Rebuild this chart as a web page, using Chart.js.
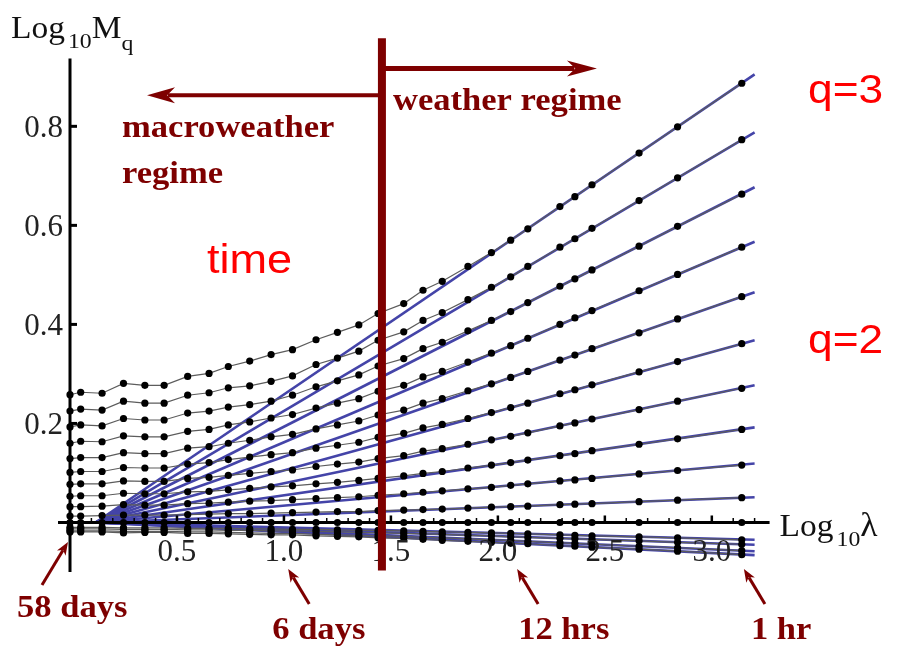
<!DOCTYPE html>
<html>
<head>
<meta charset="utf-8">
<script src="https://cdn.jsdelivr.net/npm/chart.js@4.4.1/dist/chart.umd.min.js"></script>
<style>
  html, body { margin: 0; padding: 0; background: #fff; }
  #wrap { width: 899px; height: 652px; }
</style>
</head>
<body>
<div id="wrap"><canvas id="c" width="899" height="652"></canvas></div>
<script>
// log10 of the scale ratio lambda (0 = 58 days, ~3.14 = 1 hr)
const logLambda = [0, 0.05, 0.15, 0.25, 0.35, 0.44, 0.55, 0.65, 0.74, 0.84, 0.94, 1.04, 1.15, 1.25, 1.35,
  1.44, 1.56, 1.65, 1.74, 1.86, 1.97, 2.06, 2.14, 2.29, 2.36, 2.44, 2.66, 2.84, 3.14];

// log10 M_q, one array per moment order q
const mq30 = [0.258, 0.263, 0.261, 0.281, 0.277, 0.277, 0.295, 0.301, 0.315, 0.326, 0.339, 0.349, 0.369, 0.384, 0.399,
  0.422, 0.442, 0.469, 0.487, 0.517, 0.545, 0.570, 0.593, 0.638, 0.658, 0.682, 0.746, 0.799, 0.887];
const mq28 = [0.225, 0.229, 0.227, 0.245, 0.241, 0.241, 0.257, 0.262, 0.272, 0.276, 0.285, 0.296, 0.319, 0.332, 0.346,
  0.368, 0.385, 0.408, 0.424, 0.450, 0.475, 0.496, 0.517, 0.556, 0.573, 0.594, 0.650, 0.696, 0.773];
const mq26 = [0.193, 0.197, 0.195, 0.210, 0.207, 0.207, 0.221, 0.225, 0.233, 0.238, 0.245, 0.257, 0.274, 0.286, 0.298,
  0.316, 0.331, 0.351, 0.364, 0.387, 0.408, 0.426, 0.444, 0.477, 0.492, 0.510, 0.558, 0.598, 0.663];
const mq24 = [0.160, 0.164, 0.163, 0.175, 0.173, 0.173, 0.184, 0.188, 0.197, 0.203, 0.211, 0.218, 0.231, 0.241, 0.250,
  0.265, 0.277, 0.294, 0.305, 0.324, 0.342, 0.357, 0.372, 0.400, 0.413, 0.428, 0.468, 0.501, 0.556];
const mq22 = [0.129, 0.131, 0.131, 0.141, 0.139, 0.139, 0.150, 0.153, 0.160, 0.166, 0.173, 0.178, 0.189, 0.197, 0.205,
  0.217, 0.227, 0.241, 0.250, 0.266, 0.280, 0.293, 0.305, 0.328, 0.338, 0.351, 0.383, 0.411, 0.456];
const mq20 = [0.101, 0.103, 0.103, 0.111, 0.110, 0.110, 0.118, 0.121, 0.127, 0.132, 0.137, 0.141, 0.150, 0.156, 0.162,
  0.172, 0.180, 0.191, 0.198, 0.210, 0.222, 0.232, 0.241, 0.260, 0.268, 0.278, 0.304, 0.325, 0.361];
const mq18 = [0.077, 0.078, 0.078, 0.084, 0.083, 0.083, 0.089, 0.091, 0.095, 0.099, 0.103, 0.106, 0.113, 0.118, 0.122,
  0.129, 0.135, 0.144, 0.149, 0.158, 0.167, 0.174, 0.181, 0.195, 0.201, 0.209, 0.228, 0.245, 0.271];
const mq16 = [0.053, 0.054, 0.054, 0.059, 0.058, 0.058, 0.062, 0.063, 0.066, 0.069, 0.072, 0.074, 0.078, 0.081, 0.085,
  0.089, 0.094, 0.099, 0.103, 0.110, 0.116, 0.121, 0.126, 0.135, 0.139, 0.145, 0.158, 0.169, 0.188];
const mq14 = [0.032, 0.032, 0.033, 0.036, 0.035, 0.035, 0.038, 0.039, 0.041, 0.043, 0.044, 0.046, 0.048, 0.050, 0.052,
  0.055, 0.058, 0.061, 0.064, 0.068, 0.071, 0.075, 0.078, 0.084, 0.086, 0.089, 0.098, 0.105, 0.116];
const mq12 = [0.013, 0.013, 0.014, 0.015, 0.015, 0.015, 0.016, 0.017, 0.018, 0.018, 0.019, 0.020, 0.021, 0.022, 0.022,
  0.024, 0.025, 0.026, 0.027, 0.029, 0.031, 0.032, 0.033, 0.036, 0.037, 0.038, 0.042, 0.045, 0.050];
const mq10 = [0, 0, 0, 0, 0, 0, 0, 0, 0, 0, 0, 0, 0, 0, 0, 0, 0, 0, 0, 0, 0, 0, 0, 0, 0, 0, 0, 0, 0];
const mq08 = [-0.010, -0.010, -0.010, -0.011, -0.011, -0.011, -0.012, -0.012, -0.012, -0.013, -0.013, -0.014, -0.014, -0.015, -0.016,
  -0.016, -0.017, -0.018, -0.019, -0.020, -0.021, -0.022, -0.023, -0.025, -0.026, -0.027, -0.029, -0.031, -0.035];
const mq06 = [-0.017, -0.017, -0.017, -0.018, -0.018, -0.018, -0.019, -0.019, -0.020, -0.021, -0.022, -0.022, -0.024, -0.025, -0.026,
  -0.027, -0.028, -0.030, -0.031, -0.033, -0.035, -0.036, -0.038, -0.041, -0.042, -0.044, -0.048, -0.051, -0.057];
const mq04 = [-0.019, -0.019, -0.019, -0.021, -0.020, -0.020, -0.022, -0.022, -0.023, -0.024, -0.025, -0.025, -0.027, -0.028, -0.029,
  -0.031, -0.032, -0.034, -0.036, -0.038, -0.040, -0.042, -0.043, -0.047, -0.048, -0.050, -0.054, -0.058, -0.065];
const mq02 = [-0.013, -0.013, -0.013, -0.014, -0.014, -0.014, -0.015, -0.015, -0.016, -0.016, -0.017, -0.017, -0.018, -0.019, -0.020,
  -0.021, -0.022, -0.023, -0.024, -0.026, -0.027, -0.029, -0.030, -0.032, -0.033, -0.034, -0.037, -0.040, -0.044];

const qOrders = [3.0, 2.8, 2.6, 2.4, 2.2, 2.0, 1.8, 1.6, 1.4, 1.2, 1.0, 0.8, 0.6, 0.4, 0.2];
const mqSeries = [mq30, mq28, mq26, mq24, mq22, mq20, mq18, mq16, mq14, mq12, mq10, mq08, mq06, mq04, mq02];

// straight-line fits in the weather regime, all fanning out of one point on the axis
const fitStartX = 0.12;
const fitEndX = 3.2;
const fitEndY = [0.905, 0.788, 0.677, 0.567, 0.465, 0.368, 0.277, 0.192, 0.119, 0.051, 0, -0.035, -0.058, -0.066, -0.045];

const xTicks = [0.5, 1.0, 1.5, 2.0, 2.5, 3.0];
const yTicks = [0.2, 0.4, 0.6, 0.8];

// break between macroweather and weather, in log10 lambda
const regimeBreak = 1.458;
const timeLabels = ['58 days', '6 days', '12 hrs', '1 hr'];
const timeAt = [0, 1.02, 2.09, 3.15];

const DARK_RED = '#7e0000';
const FIT_BLUE = 'rgb(68,68,168)';
const SERIF = '"Liberation Serif", "DejaVu Serif", serif';
const SANS = '"Liberation Sans", Arial, sans-serif';

function seg(ctx, x1, y1, x2, y2) {
  ctx.beginPath();
  ctx.moveTo(x1, y1);
  ctx.lineTo(x2, y2);
  ctx.stroke();
}

// text squeezed/stretched horizontally by sx; returns drawn width
function text(ctx, str, x, y, font, color, sx, align) {
  ctx.save();
  ctx.font = font;
  ctx.fillStyle = color;
  ctx.textAlign = 'left';
  ctx.textBaseline = 'alphabetic';
  const w = ctx.measureText(str).width * sx;
  let left = x;
  if (align === 'center') left = x - w / 2;
  if (align === 'right') left = x - w;
  ctx.translate(left, y);
  ctx.scale(sx, 1);
  ctx.fillText(str, 0, 0);
  ctx.restore();
  return w;
}

function arrowHead(ctx, tipX, tipY, fromX, fromY, len, half) {
  const a = Math.atan2(tipY - fromY, tipX - fromX);
  ctx.save();
  ctx.translate(tipX, tipY);
  ctx.rotate(a);
  ctx.beginPath();
  ctx.moveTo(0, 0);
  ctx.lineTo(-len, -half);
  ctx.lineTo(-len * 0.72, 0);
  ctx.lineTo(-len, half);
  ctx.closePath();
  ctx.fill();
  ctx.restore();
}

function arrow(ctx, x1, y1, x2, y2, width, len, half) {
  const a = Math.atan2(y2 - y1, x2 - x1);
  ctx.lineWidth = width;
  seg(ctx, x1, y1, x2 - Math.cos(a) * len * 0.75, y2 - Math.sin(a) * len * 0.75);
  arrowHead(ctx, x2, y2, x1, y1, len, half);
}

const overlay = {
  id: 'overlay',
  afterDatasetsDraw(chart) {
    const ctx = chart.ctx;
    const X = v => chart.scales.x.getPixelForValue(v);
    const Y = v => chart.scales.y.getPixelForValue(v);
    const y0 = Y(0);
    ctx.save();

    // axes crossing at the origin
    ctx.strokeStyle = '#000';
    ctx.lineWidth = 3;
    seg(ctx, X(-0.056), y0, X(3.27), y0);
    seg(ctx, X(0), Y(-0.1), X(0), Y(0.937));
    ctx.lineWidth = 1.5;
    for (let k = 1; k <= 32; k++) seg(ctx, X(k / 10), y0 - 1, X(k / 10), y0 - 4.5);
    ctx.lineWidth = 2.5;
    xTicks.forEach(v => seg(ctx, X(v), y0, X(v), y0 - 7));
    ctx.lineWidth = 3;
    yTicks.forEach(v => seg(ctx, X(0), Y(v), X(0) + 7, Y(v)));

    // tick labels
    const tickFont = '31px ' + SERIF;
    xTicks.forEach(v => text(ctx, v.toFixed(1), X(v), y0 + 39, tickFont, '#222', 1.0, 'center'));
    yTicks.forEach(v => text(ctx, v.toFixed(1), X(0) - 7, Y(v) + 11, tickFont, '#222', 1.0, 'right'));

    // axis titles with subscripts
    const big = '31px ' + SERIF;
    const sub = '22px ' + SERIF;
    let tx = 11;
    tx += text(ctx, 'Log', tx, 38, big, '#111', 1.08);
    tx += 3 + text(ctx, '10', tx + 3, 48, sub, '#111', 1.08);
    tx += text(ctx, 'M', tx, 38, big, '#111', 1.08);
    text(ctx, 'q', tx, 50, sub, '#111', 1.08);

    tx = X(3.27) + 10;
    tx += text(ctx, 'Log', tx, 536, big, '#111', 1.08);
    tx += 3 + text(ctx, '10', tx + 3, 546, sub, '#111', 1.08);
    text(ctx, 'λ', tx, 536, '33px ' + SERIF, '#111', 1.08);

    // regime divider and direction arrows
    ctx.strokeStyle = DARK_RED;
    ctx.fillStyle = DARK_RED;
    ctx.lineWidth = 8;
    seg(ctx, X(regimeBreak), Y(0.978), X(regimeBreak), Y(-0.097));
    arrow(ctx, X(regimeBreak) + 3, Y(0.917), X(2.463), Y(0.917), 5, 30, 8);
    arrow(ctx, X(regimeBreak) - 3, Y(0.863), X(0.36), Y(0.863), 4, 28, 8);

    const bold = 'bold 32px ' + SERIF;
    text(ctx, 'weather regime', X(regimeBreak) + 11, 110, bold, DARK_RED, 1.08);
    text(ctx, 'macroweather', 122, 137, bold, DARK_RED, 1.08);
    text(ctx, 'regime', 122, 183, bold, DARK_RED, 1.08);

    // time-scale call-outs under the axis
    const labelDx = [-51, -16, 1, 7];
    timeAt.forEach((v, i) => {
      const tipX = X(v) + (i === 0 ? -2 : 0);
      const tipY = i === 0 ? 542 : 569;
      const tailX = i === 0 ? tipX - 26 : tipX + 21;
      const tailY = i === 0 ? 585 : 604;
      arrow(ctx, tailX, tailY, tipX, tipY, 3, 13, 5);
      text(ctx, timeLabels[i], tipX + labelDx[i], i === 0 ? 617 : 639, bold, DARK_RED, 1.08);
    });

    // red notes
    text(ctx, 'time', 207, 273, '41px ' + SANS, '#ff0000', 1.1);
    text(ctx, 'q=3', 808, 103, '41px ' + SANS, '#ff0000', 1.08);
    text(ctx, 'q=2', 808, 353, '41px ' + SANS, '#ff0000', 1.08);

    ctx.restore();
  }
};

function build() {
  const datasets = [];
  mqSeries.forEach((vals, i) => {
    datasets.push({
      label: 'q=' + qOrders[i].toFixed(1),
      data: vals.map((v, j) => ({ x: logLambda[j], y: v })),
      borderColor: '#5c5c5c',
      borderWidth: 1.2,
      pointRadius: 3.6,
      pointHoverRadius: 3.6,
      pointBackgroundColor: '#000',
      pointBorderWidth: 0,
      clip: false,
      order: 0
    });
  });
  fitEndY.forEach((v, i) => {
    datasets.push({
      label: 'fit q=' + qOrders[i].toFixed(1),
      data: [{ x: fitStartX, y: 0 }, { x: fitEndX, y: v }],
      borderColor: FIT_BLUE,
      borderWidth: 2.6,
      pointRadius: 0,
      clip: false,
      order: 1
    });
  });

  new Chart(document.getElementById('c'), {
    type: 'line',
    data: { datasets },
    options: {
      responsive: false,
      animation: false,
      events: [],
      layout: { padding: { left: 70, right: 123, top: 57, bottom: 80 } },
      plugins: { legend: { display: false }, tooltip: { enabled: false } },
      scales: {
        x: { type: 'linear', min: 0, max: 3.3, display: false },
        y: { type: 'linear', min: -0.1, max: 0.94, display: false }
      }
    },
    plugins: [overlay]
  });
}

Promise.all([
  document.fonts.load('31px "Liberation Serif"'),
  document.fonts.load('bold 32px "Liberation Serif"'),
  document.fonts.load('41px "Liberation Sans"')
]).then(build, build);
</script>
</body>
</html>
